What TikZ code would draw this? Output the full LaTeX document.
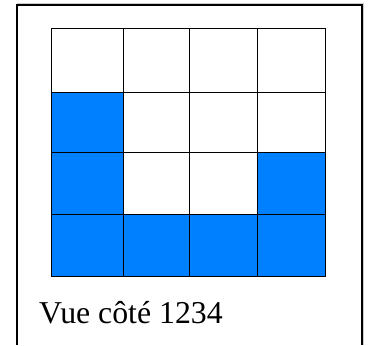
\documentclass[tikz,border=0pt]{standalone}
\usepackage{fontspec}
\setmainfont{Liberation Serif}
\definecolor{cellblue}{RGB}{0,127,255}
\begin{document}
\begin{tikzpicture}[x=1pt,y=-1pt,
  cell/.style={draw=black,line width=0.9pt},
  filled/.style={cell,fill=cellblue},
  frame/.style={draw=black,line width=2pt}]
\useasboundingbox (0,0) rectangle (371,345);
\def\xa{51.3}\def\xb{123.3}\def\xc{189.3}\def\xd{257.3}\def\xe{325.3}
\def\ya{28.7}\def\yb{92.3}\def\yc{152.3}\def\yd{214.3}\def\ye{276}
% frame (open at bottom)
\draw[gray!40,line width=1pt] (17,3.8) -- (363.2,3.8) -- (363.2,345);
\draw[frame] (17,345) -- (17,5) -- (362,5) -- (362,345);
% row 1
\path[cell] (\xa,\ya) rectangle (\xb,\yb);
\path[cell] (\xb,\ya) rectangle (\xc,\yb);
\path[cell] (\xc,\ya) rectangle (\xd,\yb);
\path[cell] (\xd,\ya) rectangle (\xe,\yb);
% row 2
\path[filled] (\xa,\yb) rectangle (\xb,\yc);
\path[cell] (\xb,\yb) rectangle (\xc,\yc);
\path[cell] (\xc,\yb) rectangle (\xd,\yc);
\path[cell] (\xd,\yb) rectangle (\xe,\yc);
% row 3
\path[filled] (\xa,\yc) rectangle (\xb,\yd);
\path[cell] (\xb,\yc) rectangle (\xc,\yd);
\path[cell] (\xc,\yc) rectangle (\xd,\yd);
\path[filled] (\xd,\yc) rectangle (\xe,\yd);
% row 4
\path[filled] (\xa,\yd) rectangle (\xb,\ye);
\path[filled] (\xb,\yd) rectangle (\xc,\ye);
\path[filled] (\xc,\yd) rectangle (\xd,\ye);
\path[filled] (\xd,\yd) rectangle (\xe,\ye);
\node[anchor=base west,inner sep=0pt,font=\fontsize{31.8}{36}\selectfont] (caption) at (39,323.3) {Vue côté 1234};
\end{tikzpicture}
\end{document}
